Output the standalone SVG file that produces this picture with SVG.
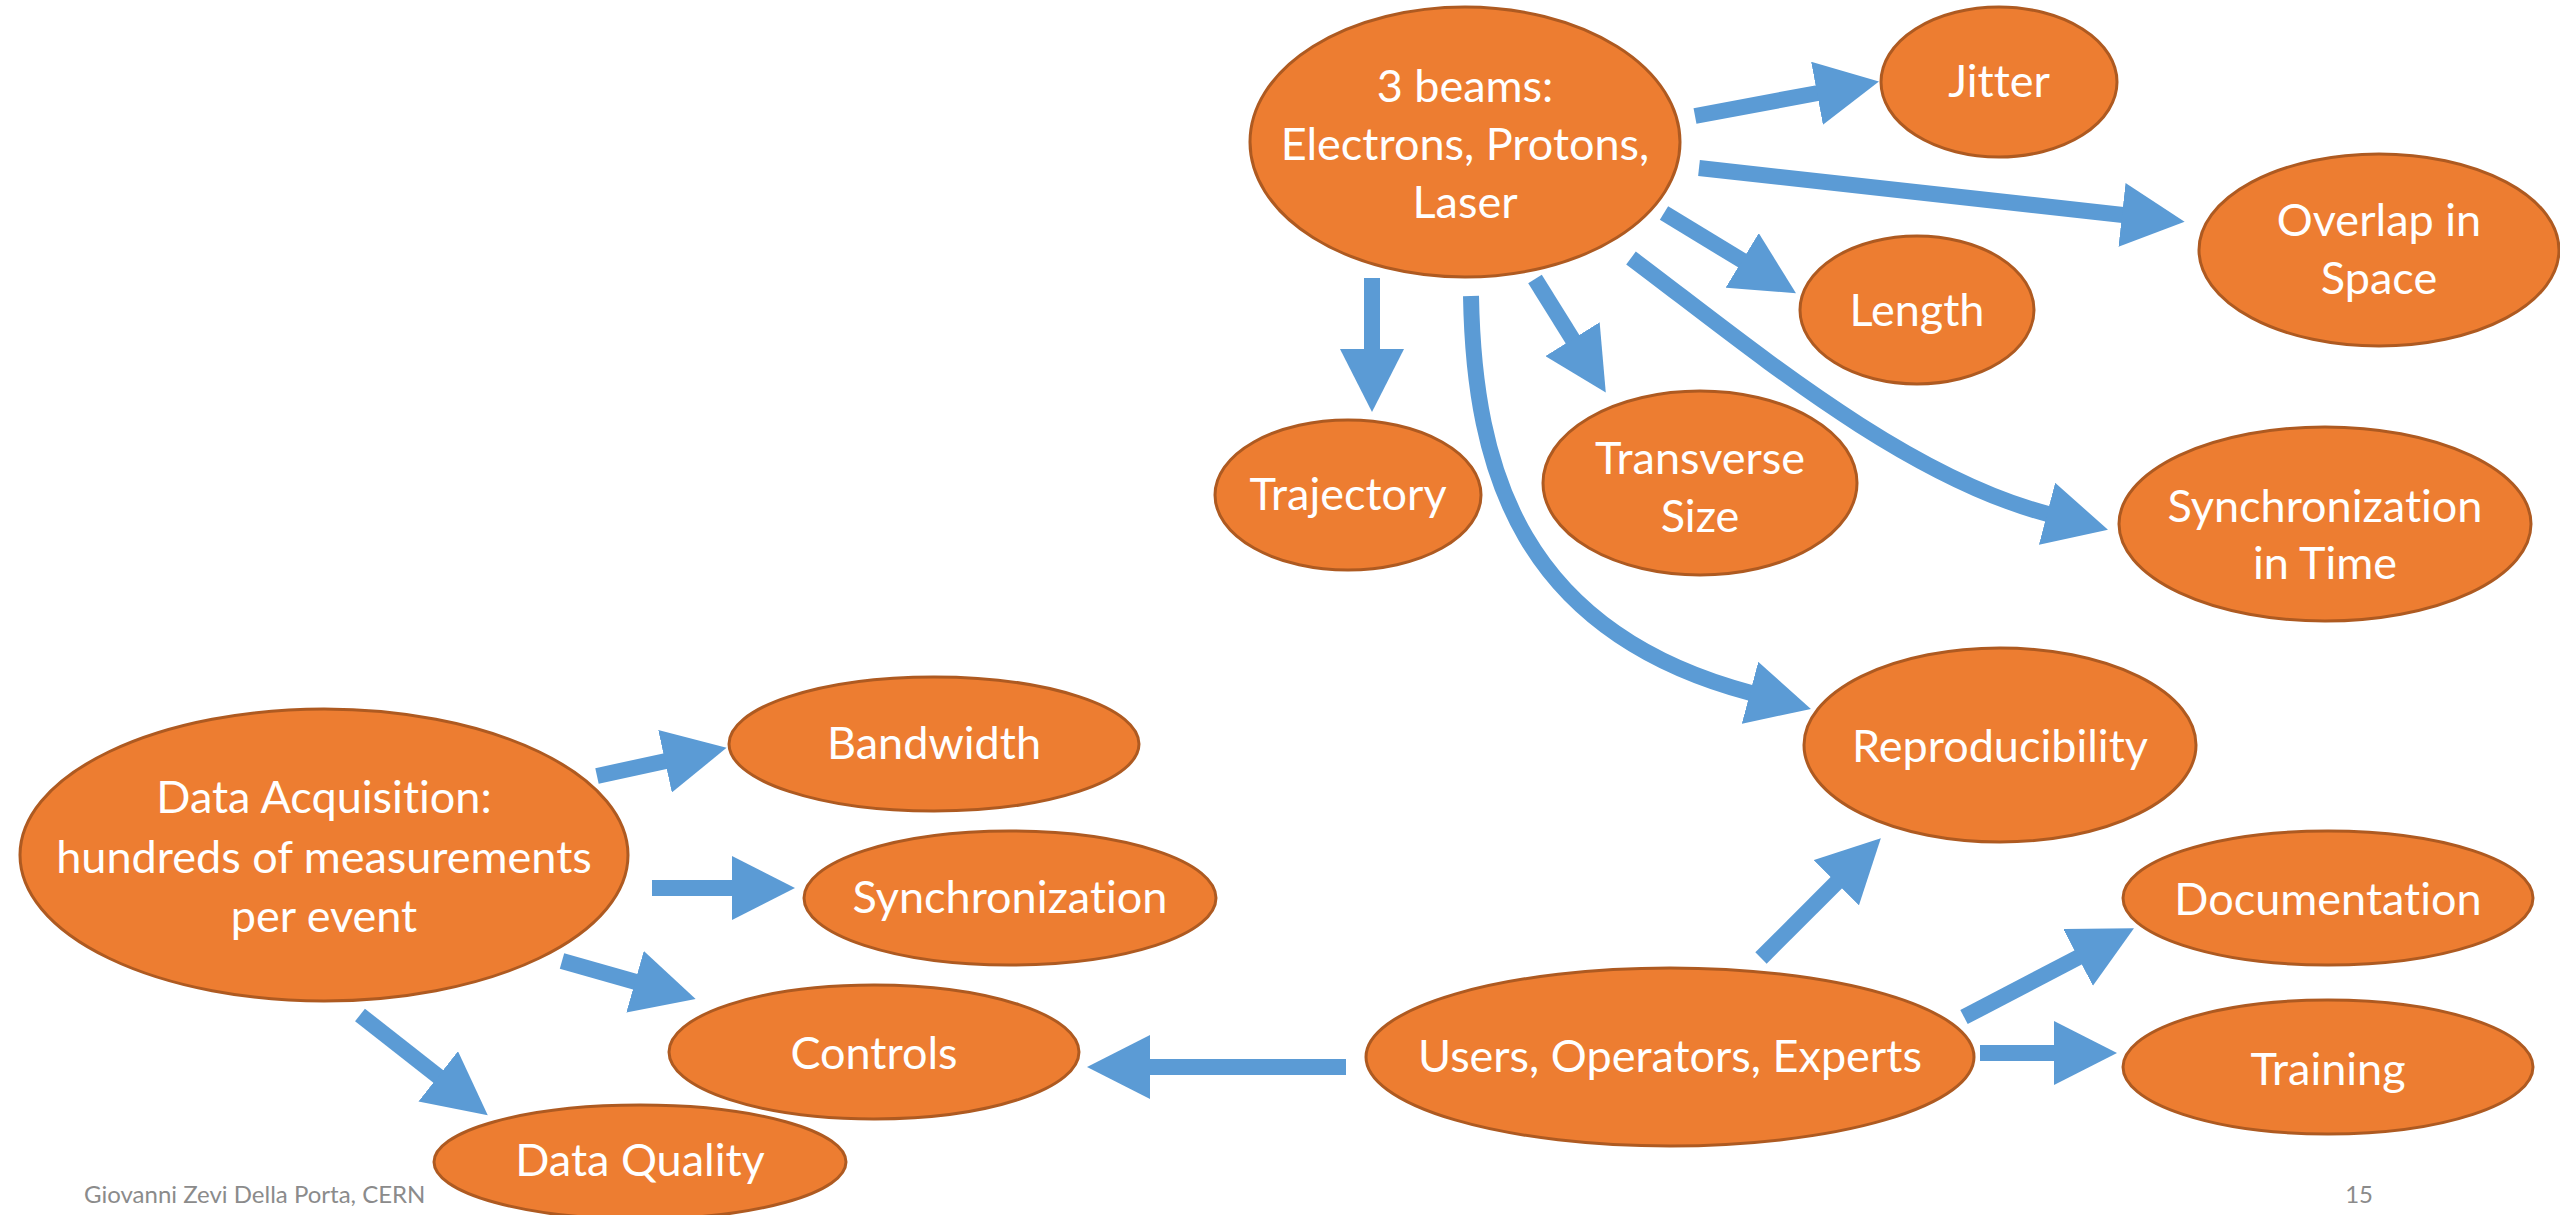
<svg xmlns="http://www.w3.org/2000/svg" width="2560" height="1215" viewBox="0 0 2560 1215">
<style>
.node ellipse{fill:#ED7D31;stroke:#AE5A21;stroke-width:3}
.node text{font-family:Lato,"Open Sans","Liberation Sans",sans-serif;font-size:45px;fill:#FFFFFF;text-anchor:middle;font-variant-ligatures:none}
.conn path,.conn line{fill:none;stroke:#5B9BD5;stroke-width:16;stroke-linecap:butt}
.foot{font-family:Lato,"Liberation Sans",sans-serif;font-size:24px;fill:#8B8B8B}
</style>
<defs>
<marker id="ah" markerUnits="userSpaceOnUse" markerWidth="64" markerHeight="64" viewBox="0 0 64 64" refX="1" refY="32" orient="auto">
<path d="M0,0 L63,32 L0,64 z" fill="#5B9BD5"/>
</marker>
</defs>
<rect width="2560" height="1215" fill="#FFFFFF"/>
<g id="connectors" class="conn">
<line x1="1372" y1="278" x2="1372" y2="350" marker-end="url(#ah)"/>
<line x1="1535" y1="279" x2="1573" y2="340" marker-end="url(#ah)"/>
<line x1="1664" y1="213" x2="1743" y2="261" marker-end="url(#ah)"/>
<line x1="1695" y1="116" x2="1818" y2="93" marker-end="url(#ah)"/>
<line x1="1699" y1="168" x2="2123" y2="215" marker-end="url(#ah)"/>
<path d="M1471,296 C1474,470 1521,632 1751,693" marker-end="url(#ah)"/>
<path d="M1631,258 C1751,348 1903,476 2048,514" marker-end="url(#ah)"/>
<line x1="1761" y1="958" x2="1837" y2="882" marker-end="url(#ah)"/>
<line x1="1964" y1="1017" x2="2079" y2="957" marker-end="url(#ah)"/>
<line x1="1980" y1="1053" x2="2055" y2="1053" marker-end="url(#ah)"/>
<line x1="1346" y1="1067" x2="1149" y2="1067" marker-end="url(#ah)"/>
<line x1="597" y1="776" x2="666" y2="761" marker-end="url(#ah)"/>
<line x1="652" y1="888" x2="733" y2="888" marker-end="url(#ah)"/>
<line x1="562" y1="961" x2="636" y2="982" marker-end="url(#ah)"/>
<line x1="360" y1="1015" x2="439" y2="1077" marker-end="url(#ah)"/>
</g>
<g id="n-beams" class="node"><ellipse cx="1465" cy="142" rx="215" ry="135"/><text x="1465" y="102">3 beams:</text><text x="1465" y="160">Electrons, Protons,</text><text x="1465" y="218">Laser</text></g>
<g id="n-jitter" class="node"><ellipse cx="1999" cy="82" rx="118" ry="75"/><text x="1999" y="97">Jitter</text></g>
<g id="n-overlap" class="node"><ellipse cx="2379" cy="250" rx="180" ry="96"/><text x="2379" y="236">Overlap in</text><text x="2379" y="294">Space</text></g>
<g id="n-length" class="node"><ellipse cx="1917" cy="310" rx="117" ry="74"/><text x="1917" y="326">Length</text></g>
<g id="n-trajectory" class="node"><ellipse cx="1348" cy="495" rx="133" ry="75"/><text x="1348" y="510">Trajectory</text></g>
<g id="n-transverse" class="node"><ellipse cx="1700" cy="483" rx="157" ry="92"/><text x="1700" y="474">Transverse</text><text x="1700" y="532">Size</text></g>
<g id="n-synctime" class="node"><ellipse cx="2325" cy="524" rx="206" ry="97"/><text x="2325" y="522">Synchronization</text><text x="2325" y="579">in Time</text></g>
<g id="n-repro" class="node"><ellipse cx="2000" cy="745" rx="196" ry="97"/><text x="2000" y="762">Reproducibility</text></g>
<g id="n-doc" class="node"><ellipse cx="2328" cy="898" rx="205" ry="67"/><text x="2328" y="915">Documentation</text></g>
<g id="n-training" class="node"><ellipse cx="2328" cy="1067" rx="205" ry="67"/><text x="2328" y="1085">Training</text></g>
<g id="n-users" class="node"><ellipse cx="1670" cy="1057" rx="304" ry="89"/><text x="1670" y="1072">Users, Operators, Experts</text></g>
<g id="n-daq" class="node"><ellipse cx="324" cy="855" rx="304" ry="146"/><text x="324" y="813">Data Acquisition:</text><text x="324" y="873">hundreds of measurements</text><text x="324" y="932">per event</text></g>
<g id="n-bandwidth" class="node"><ellipse cx="934" cy="744" rx="205" ry="67"/><text x="934" y="759">Bandwidth</text></g>
<g id="n-sync" class="node"><ellipse cx="1010" cy="898" rx="206" ry="67"/><text x="1010" y="913">Synchronization</text></g>
<g id="n-controls" class="node"><ellipse cx="874" cy="1052" rx="205" ry="67"/><text x="874" y="1069">Controls</text></g>
<g id="n-dataquality" class="node"><ellipse cx="640" cy="1162" rx="206" ry="57"/><text x="640" y="1176">Data Quality</text></g>
<text class="foot" x="84" y="1203">Giovanni Zevi Della Porta, CERN</text>
<text class="foot" x="2373" y="1203" text-anchor="end">15</text>
</svg>
